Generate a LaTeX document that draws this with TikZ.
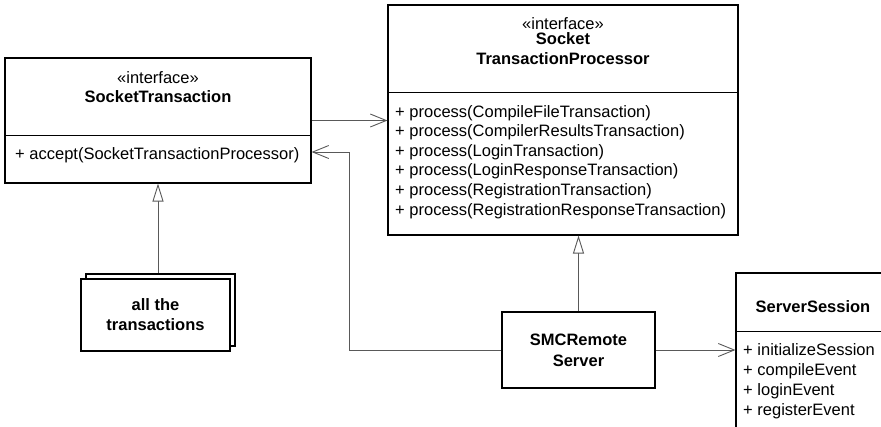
\documentclass[tikz,border=0pt]{standalone}
\usepackage{fontspec}
\setmainfont{Liberation Sans}
\usetikzlibrary{arrows.meta}

\begin{document}
\begin{tikzpicture}[
    x=1pt, y=-1pt,
    font=\fontsize{16.5}{19.5}\selectfont,
    classbox/.style={draw=black, line width=1.1pt, fill=white, inner sep=0pt},
    divider/.style={draw=black, line width=1pt},
    txt/.style={anchor=base, inner sep=0pt},
    classname/.style={txt, font=\fontsize{16.5}{19.5}\selectfont\bfseries},
    member/.style={anchor=base west, inner sep=0pt},
    dep/.style={draw=black!65, line width=0.9pt, -{Straight Barb[length=16pt,width=13pt]}},
    inh/.style={draw=black!65, line width=0.9pt, -{Triangle[length=18pt,width=11pt,fill=white]}}
]
    \useasboundingbox (0,0) rectangle (881,426);
    \clip (0,0) rectangle (881,426);

    % socket transaction interface
    \node[classbox, minimum width=306pt, minimum height=125pt] (st) at (158,120.5) {};
    \draw[divider] (st.west |- 0,135) -- (st.east |- 0,135);
    \node[txt] (stster) at (158,83) {«interface»};
    \node[classname] (stname) at (158,102) {SocketTransaction};
    \node[member] (accept) at (15,159) {+ accept(SocketTransactionProcessor)};

    % processor interface
    \node[classbox, minimum width=350pt, minimum height=230pt] (stp) at (563,120) {};
    \draw[divider] (stp.west |- 0,92) -- (stp.east |- 0,92);
    \node[txt] (stpster) at (563,29) {«interface»};
    \node[classname] (stpname1) at (563,44) {Socket};
    \node[classname] (stpname2) at (563,64) {TransactionProcessor};
    \foreach \i/\lab in {0/CompileFileTransaction,1/CompilerResultsTransaction,2/LoginTransaction,
                         3/LoginResponseTransaction,4/RegistrationTransaction,5/RegistrationResponseTransaction} {
        \node[member] (proc\i) at (395,117+19.6*\i) {+ process(\lab)};
    }

    % all the transactions (stacked)
    \node[classbox, minimum width=149pt, minimum height=72pt] (allback) at (160.5,310) {};
    \node[classbox, minimum width=149pt, minimum height=72pt] (all) at (155.5,315) {};
    \node[classname] (allname1) at (155.5,310) {all the};
    \node[classname] (allname2) at (155.5,330) {transactions};

    % remote server
    \node[classbox, minimum width=153pt, minimum height=76pt] (smc) at (578.5,350) {};
    \node[classname] (smcname1) at (578.5,345) {SMCRemote};
    \node[classname] (smcname2) at (578.5,366) {Server};

    % server session
    \node[classbox, minimum width=170pt, minimum height=190pt] (ss) at (821,368) {};
    \draw[divider] (ss.west |- 0,331) -- (ss.east |- 0,331);
    \node[classname] (ssname) at (813,312) {ServerSession};
    \foreach \i/\lab in {0/initializeSession,1/compileEvent,2/loginEvent,3/registerEvent} {
        \node[member] (ev\i) at (743,355+20*\i) {+ \lab};
    }

    % connectors
    \coordinate (bend) at (349,152);
    \draw[dep] (st.east) -- (st.east -| stp.west);
    \draw[dep] (smc.west) -| (bend) -- (st.east |- bend);
    \draw[inh] (st.south |- allback.north) -- (st.south);
    \draw[inh] (smc.north) -- (smc.north |- stp.south);
    \draw[dep] (smc.east) -- (smc.east -| ss.west);
\end{tikzpicture}
\end{document}
